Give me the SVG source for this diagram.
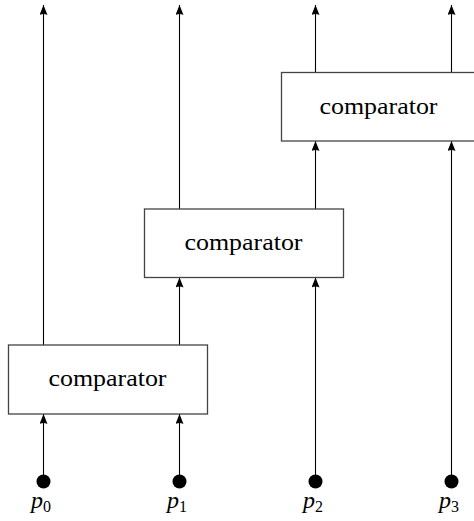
<svg xmlns="http://www.w3.org/2000/svg" width="474" height="521" viewBox="0 0 474 521">
  <style>
    .wire { stroke: #000; stroke-width: 1.1; fill: none; }
    .box rect { fill: #fff; stroke: #444; stroke-width: 1.3; }
    .box text { font-family: "Liberation Serif", "DejaVu Serif", serif; font-size: 24px; fill: #000; text-anchor: middle; }
    .pin circle { fill: #000; }
    .pin text { font-family: "Liberation Serif", "DejaVu Serif", serif; font-size: 24px; font-style: italic; fill: #000; }
    .pin tspan.sub { font-style: normal; font-size: 16px; }
  </style>
  <defs>
    <marker id="arrow" viewBox="0 0 10 8" refX="10" refY="4" markerWidth="10" markerHeight="8" markerUnits="userSpaceOnUse" orient="auto">
      <path d="M0,0 L10,4 L0,8 Q2,4 0,0 Z" fill="#000"/>
    </marker>
  </defs>

  <!-- wires between inputs, comparators and outputs -->
  <g id="connectors">
    <!-- lane 0 -->
    <line class="wire" x1="43.5" y1="481" x2="43.5" y2="414" marker-end="url(#arrow)"/>
    <line class="wire" x1="43.5" y1="345" x2="43.5" y2="5" marker-end="url(#arrow)"/>
    <!-- lane 1 -->
    <line class="wire" x1="179.5" y1="481" x2="179.5" y2="414" marker-end="url(#arrow)"/>
    <line class="wire" x1="179.5" y1="345" x2="179.5" y2="277.5" marker-end="url(#arrow)"/>
    <line class="wire" x1="179.5" y1="209" x2="179.5" y2="5" marker-end="url(#arrow)"/>
    <!-- lane 2 -->
    <line class="wire" x1="315.5" y1="481" x2="315.5" y2="277.5" marker-end="url(#arrow)"/>
    <line class="wire" x1="315.5" y1="209" x2="315.5" y2="141" marker-end="url(#arrow)"/>
    <line class="wire" x1="315.5" y1="73" x2="315.5" y2="5" marker-end="url(#arrow)"/>
    <!-- lane 3 -->
    <line class="wire" x1="451.5" y1="481" x2="451.5" y2="141" marker-end="url(#arrow)"/>
    <line class="wire" x1="451.5" y1="73" x2="451.5" y2="5" marker-end="url(#arrow)"/>
  </g>

  <!-- comparators -->
  <g id="comparator1" class="box">
    <rect x="8.5" y="345" width="199" height="69"/>
    <text x="107.5" y="386" textLength="118" lengthAdjust="spacingAndGlyphs">comparator</text>
  </g>
  <g id="comparator2" class="box">
    <rect x="144.5" y="209" width="199" height="68.5"/>
    <text x="243.5" y="250" textLength="118" lengthAdjust="spacingAndGlyphs">comparator</text>
  </g>
  <g id="comparator3" class="box">
    <rect x="281.5" y="72.5" width="199" height="68.5"/>
    <text x="378.5" y="114" textLength="118" lengthAdjust="spacingAndGlyphs">comparator</text>
  </g>

  <!-- inputs -->
  <g id="p0" class="pin">
    <circle cx="43.5" cy="481.5" r="7"/>
    <text x="31" y="508">p<tspan class="sub" dy="4">0</tspan></text>
  </g>
  <g id="p1" class="pin">
    <circle cx="179.5" cy="481.5" r="7"/>
    <text x="167" y="508">p<tspan class="sub" dy="4">1</tspan></text>
  </g>
  <g id="p2" class="pin">
    <circle cx="315.5" cy="481.5" r="7"/>
    <text x="303" y="508">p<tspan class="sub" dy="4">2</tspan></text>
  </g>
  <g id="p3" class="pin">
    <circle cx="451.5" cy="481.5" r="7"/>
    <text x="439" y="508">p<tspan class="sub" dy="4">3</tspan></text>
  </g>
</svg>
